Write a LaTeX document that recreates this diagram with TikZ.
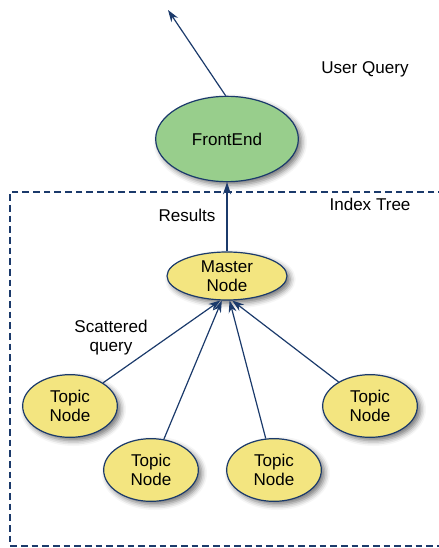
\documentclass[tikz,border=0pt]{standalone}
\usepackage{fontspec}
\setmainfont{Liberation Sans}
\usetikzlibrary{positioning, arrows.meta, shapes.geometric, shadows.blur}
\definecolor{edgeblue}{HTML}{1B3A6B}
\definecolor{feGreen}{HTML}{98CE8C}
\definecolor{nodeYellow}{HTML}{F3E580}

\begin{document}
\begin{tikzpicture}[x=0.75pt,y=-0.75pt,font=\fontsize{12.8}{14.3}\selectfont,
    every node/.style={align=center},
    ell/.style={ellipse, draw=edgeblue, line width=0.9pt, inner sep=0pt,
                blur shadow={shadow xshift=2.5pt, shadow yshift=-2.5pt, shadow blur radius=4pt, shadow opacity=55}},
    topic/.style={ell, fill=nodeYellow, minimum width=71pt, minimum height=47pt},
    link/.style={-{Stealth[length=9pt,width=6pt]}, draw=edgeblue, line width=0.9pt}]
  \useasboundingbox (0,0) rectangle (438,548);
  % index tree frame, open on the right
  \draw[edgeblue, line width=1.1pt, dash pattern=on 5pt off 3pt]
    (445,192) -- (10,192) -- (10,546) -- (445,546);
  \node[ell, fill=feGreen, minimum width=107pt, minimum height=64pt] (fe) at (227,139) {FrontEnd};
  \node[ell, fill=nodeYellow, minimum width=90pt, minimum height=36pt] (master) at (227,276) {Master\\Node};
  \node[topic] (t1) at (70,406) {Topic\\Node};
  \node[topic] (t2) at (151,470) {Topic\\Node};
  \node[topic] (t3) at (274,470) {Topic\\Node};
  \node[topic] (t4) at (370,406) {Topic\\Node};
  \coordinate (user) at (168,10);
  \node at (365,69) {User Query};
  \node at (370,204) {Index Tree};
  \node at (187,215) {Results};
  \node at (111,338) {Scattered\\query};
  \draw[link] (fe.north) ++(-1pt,0) -- (user);
  \draw[link] (master) -- (fe);
  \draw[link] (t1) -- (master.255);
  \draw[link] (t2) -- (master.258);
  \draw[link] (t3) -- (master.276);
  \draw[link] (t4) -- (master.282);
\end{tikzpicture}
\end{document}
